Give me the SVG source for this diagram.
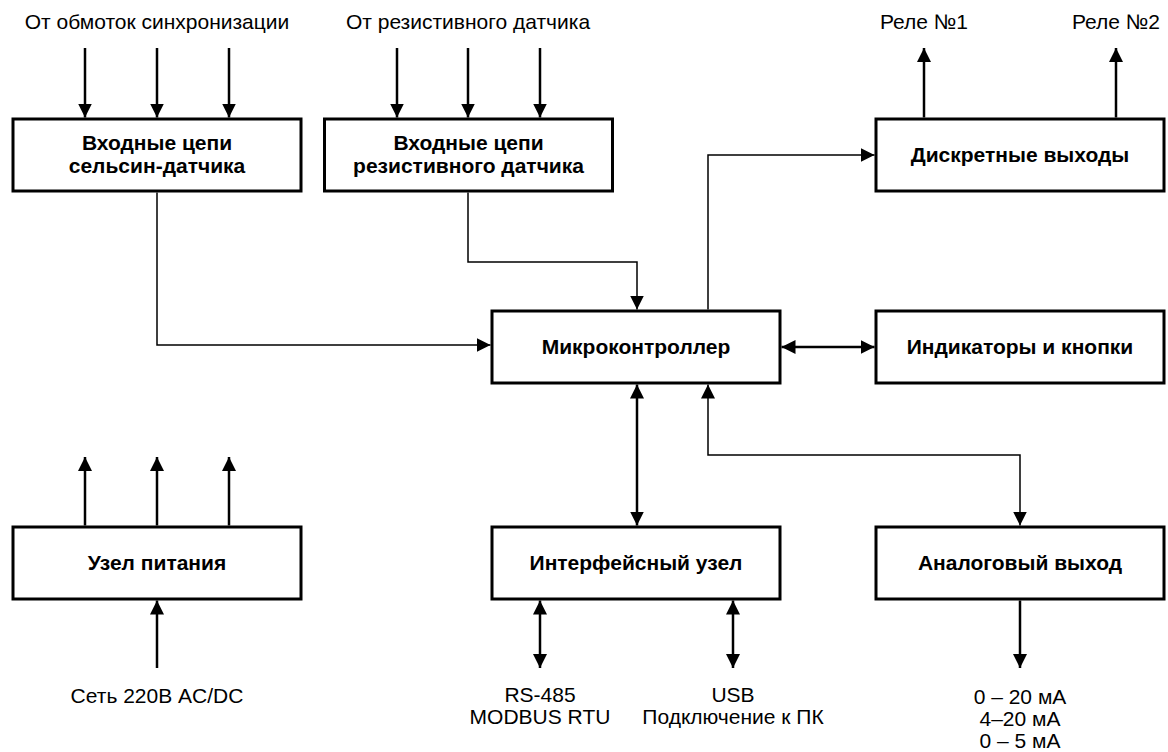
<svg xmlns="http://www.w3.org/2000/svg" width="1168" height="752" viewBox="0 0 1168 752">
<style>
.box{fill:#fff;stroke:#000;stroke-width:3}
.bt{font-family:"Liberation Sans",Arial,sans-serif;font-size:21px;font-weight:bold;text-anchor:middle;fill:#000}
.lt{font-family:"Liberation Sans",Arial,sans-serif;font-size:21px;text-anchor:middle;fill:#000}
.thick{fill:none;stroke:#000;stroke-width:2.5}
.thin{fill:none;stroke:#000;stroke-width:1.5}
</style>
<defs>
<marker id="a" viewBox="0 0 14 14" refX="14" refY="7" markerWidth="14" markerHeight="14" markerUnits="userSpaceOnUse" orient="auto-start-reverse"><path d="M0,0 L14,7 L0,14 z" fill="#000"/></marker>
</defs>
<rect width="1168" height="752" fill="#fff"/>
<g id="connectors">
<path class="thick" d="M85,48 V117.5" marker-end="url(#a)"/>
<path class="thick" d="M157,48 V117.5" marker-end="url(#a)"/>
<path class="thick" d="M229,48 V117.5" marker-end="url(#a)"/>
<path class="thick" d="M397,48 V117.5" marker-end="url(#a)"/>
<path class="thick" d="M468,48 V117.5" marker-end="url(#a)"/>
<path class="thick" d="M540,48 V117.5" marker-end="url(#a)"/>
<path class="thick" d="M924,117.5 V48" marker-end="url(#a)"/>
<path class="thick" d="M1116,117.5 V48" marker-end="url(#a)"/>
<path class="thin" d="M157,192.5 V345 H490.5" marker-end="url(#a)"/>
<path class="thin" d="M468,192.5 V262 H637 V309.5" marker-end="url(#a)"/>
<path class="thin" d="M708,309.5 V155 H874.5" marker-end="url(#a)"/>
<path class="thick" d="M781.5,347 H874.5" marker-start="url(#a)" marker-end="url(#a)"/>
<path class="thick" d="M637,384.5 V525.5" marker-start="url(#a)" marker-end="url(#a)"/>
<path class="thin" d="M708,384.5 V455 H1020 V525.5" marker-start="url(#a)" marker-end="url(#a)"/>
<path class="thick" d="M85,525.5 V457" marker-end="url(#a)"/>
<path class="thick" d="M157,525.5 V457" marker-end="url(#a)"/>
<path class="thick" d="M229,525.5 V457" marker-end="url(#a)"/>
<path class="thick" d="M157,668 V600.5" marker-end="url(#a)"/>
<path class="thick" d="M540,600.5 V668" marker-start="url(#a)" marker-end="url(#a)"/>
<path class="thick" d="M733,600.5 V668" marker-start="url(#a)" marker-end="url(#a)"/>
<path class="thick" d="M1020,600.5 V668" marker-end="url(#a)"/>
</g>
<g id="n-selsyn"><rect class="box" x="13" y="119" width="288" height="72"/><text class="bt" x="157" y="150">Входные цепи</text><text class="bt" x="157" y="173">сельсин-датчика</text></g>
<g id="n-resist"><rect class="box" x="324.5" y="119" width="288" height="72"/><text class="bt" x="468.5" y="150">Входные цепи</text><text class="bt" x="468.5" y="173">резистивного датчика</text></g>
<g id="n-discrete"><rect class="box" x="876" y="119" width="288" height="72"/><text class="bt" x="1020" y="162">Дискретные выходы</text></g>
<g id="n-mcu"><rect class="box" x="492" y="311" width="288" height="72"/><text class="bt" x="636" y="354">Микроконтроллер</text></g>
<g id="n-ind"><rect class="box" x="876" y="311" width="288" height="72"/><text class="bt" x="1020" y="354">Индикаторы и кнопки</text></g>
<g id="n-power"><rect class="box" x="13" y="527" width="288" height="72"/><text class="bt" x="157" y="570">Узел питания</text></g>
<g id="n-iface"><rect class="box" x="492" y="527" width="288" height="72"/><text class="bt" x="636" y="570">Интерфейсный узел</text></g>
<g id="n-analog"><rect class="box" x="876" y="527" width="288" height="72"/><text class="bt" x="1020" y="570">Аналоговый выход</text></g>
<g id="labels">
<text class="lt" x="157" y="29">От обмоток синхронизации</text>
<text class="lt" x="468" y="29">От резистивного датчика</text>
<text class="lt" x="924" y="29">Реле №1</text>
<text class="lt" x="1116" y="29">Реле №2</text>
<text class="lt" x="157" y="703">Сеть 220В AC/DC</text>
<text class="lt" x="540" y="702">RS-485</text>
<text class="lt" x="540" y="724">MODBUS RTU</text>
<text class="lt" x="733" y="702">USB</text>
<text class="lt" x="733" y="724">Подключение к ПК</text>
<text class="lt" x="1020" y="704">0 – 20 мА</text>
<text class="lt" x="1020" y="726">4–20 мА</text>
<text class="lt" x="1020" y="748">0 – 5 мА</text>
</g>
</svg>
